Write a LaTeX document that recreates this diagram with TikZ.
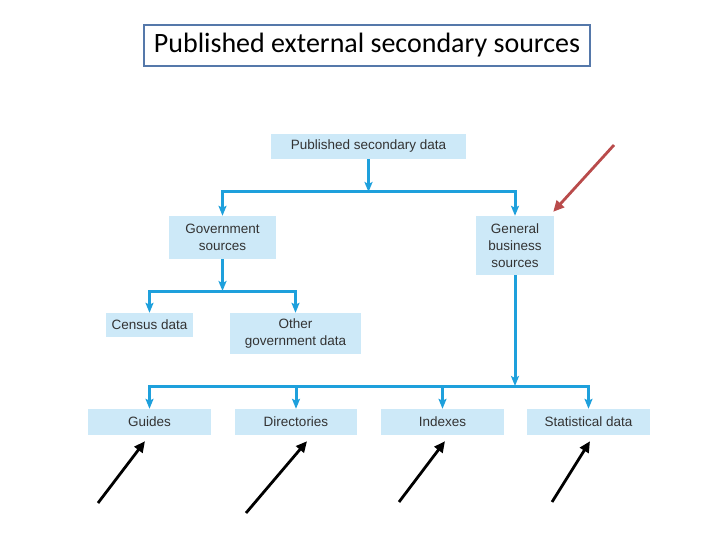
\documentclass[tikz,border=0pt]{standalone}
\usepackage{fontspec}
\setmainfont{Liberation Sans}
\newfontfamily\titlefont{Carlito}
\usetikzlibrary{arrows.meta, positioning, calc}

\definecolor{boxblue}{RGB}{205,233,248}
\definecolor{flowblue}{RGB}{30,160,220}
\definecolor{framesteel}{RGB}{85,120,170}
\definecolor{pointred}{RGB}{185,75,75}

\begin{document}
\begin{tikzpicture}[x=1pt, y=-1pt]
    % Define styles
    \tikzset{
        databox/.style={
            rectangle,
            fill=boxblue,
            inner sep=0pt,
            align=center,
            font=\fontsize{13.5}{17}\selectfont,
            text=black!80
        },
        flow/.style={-{Stealth[length=10pt, width=8pt, inset=2pt]}, line width=3pt, flowblue},
        pointer/.style={-{Triangle[length=11pt, width=10pt]}, line width=2.8pt, black},
        redpointer/.style={-{Triangle[length=11pt, width=10pt]}, line width=2.8pt, pointred}
    }
    \useasboundingbox (0,0) rectangle (720,540);

    % Title
    \node[draw=framesteel, line width=2.5pt, minimum width=446pt, minimum height=41pt,
          font=\titlefont\fontsize{28}{30}\selectfont] (title) at (367,45.5)
          {Published external secondary sources};

    % Boxes
    \node[databox, minimum width=195pt, minimum height=25pt] (pubdata) at (368.5,146.5) {Published secondary data};
    \node[databox, minimum width=107pt, minimum height=43pt] (govsrc) at (222.5,237.5) {Government\\sources};
    \node[databox, minimum width=78pt, minimum height=59pt] (bussrc) at (515,245.5) {General\\business\\sources};
    \node[databox, minimum width=87pt, minimum height=24pt] (census) at (149.5,325) {Census data};
    \node[databox, minimum width=131pt, minimum height=41pt] (othergov) at (295.5,333.5) {Other\\government data};
    \node[databox, minimum width=123pt, minimum height=26pt] (guides) at (149.5,422) {Guides};
    \node[databox, minimum width=122pt, minimum height=26pt] (directories) at (296,422) {Directories};
    \node[databox, minimum width=123pt, minimum height=26pt] (indexes) at (442.5,422) {Indexes};
    \node[databox, minimum width=123pt, minimum height=26pt] (statdata) at (588.5,422) {Statistical data};

    % Junctions
    \coordinate (topbar) at (pubdata.south |- 0,192);
    \coordinate (govbar) at (govsrc.south |- 0,291);
    \coordinate (lowbar) at (bussrc.south |- 0,386);

    % Top level
    \draw[flow] (pubdata.south) -- (topbar);
    \draw[flow] (topbar) -| (govsrc.north);
    \draw[flow] (topbar) -| (bussrc.north);

    % Government branch
    \draw[flow] (govsrc.south) -- (govbar);
    \draw[flow] (govbar) -| (census.north);
    \draw[flow] (govbar) -| (othergov.north);

    % Business branch
    \draw[flow] (bussrc.south) -- (lowbar);
    \draw[flow] (lowbar) -| (guides.north);
    \draw[flow] (lowbar) -| (directories.north);
    \draw[flow] (lowbar) -| (indexes.north);
    \draw[flow] (lowbar) -| (statdata.north);

    % Pointers
    \coordinate (guidestail) at (98,503);
    \coordinate (directoriestail) at (246,513);
    \coordinate (indexestail) at (399,502);
    \coordinate (statdatatail) at (552,502);
    \coordinate (bussrctail) at (614,145);
    \draw[pointer] (guidestail) -- ([xshift=-4.5pt, yshift=-6pt]guides.south);
    \draw[pointer] (directoriestail) -- ([xshift=11pt, yshift=-6pt]directories.south);
    \draw[pointer] (indexestail) -- ([xshift=2.5pt, yshift=-6pt]indexes.south);
    \draw[pointer] (statdatatail) -- ([xshift=1.5pt, yshift=-6pt]statdata.south);
    \draw[redpointer] (bussrctail) -- ([xshift=-1pt, yshift=4pt]bussrc.north east);
\end{tikzpicture}
\end{document}
